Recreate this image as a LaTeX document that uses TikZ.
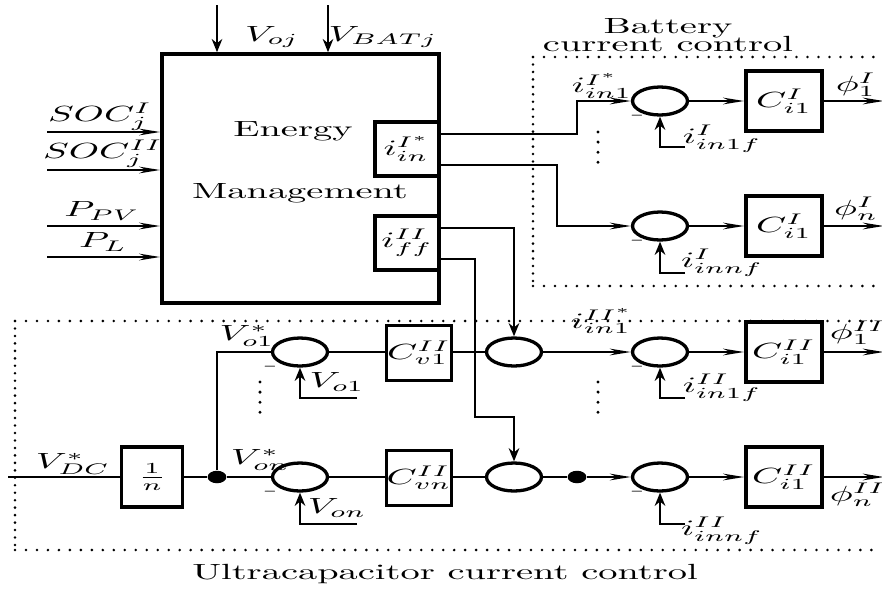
\documentclass[tikz,border=0pt]{standalone}
\usepackage{graphicx}
\usetikzlibrary{arrows.meta,shapes.geometric}
\newcommand{\sx}[1]{\scalebox{1.75}[1]{#1}}

\begin{document}
\begin{tikzpicture}[x=0.016cm,y=-0.016cm,
  blk/.style={draw,line width=1.7pt,inner sep=0pt},
  embox/.style={blk,minimum width=4.432cm,minimum height=3.984cm},
  refbox/.style={blk,minimum width=1.024cm,minimum height=0.864cm},
  ctrl/.style={blk,minimum width=1.216cm,minimum height=0.96cm},
  vctrl/.style={blk,minimum width=1.04cm,minimum height=0.88cm},
  sumj/.style={draw,ellipse,line width=1.5pt,inner sep=0pt,minimum width=0.88cm,minimum height=0.448cm},
  jdot/.style={fill,ellipse,inner sep=0pt,minimum width=0.3cm,minimum height=0.2cm},
  wire/.style={line width=1.2pt},
  sigh/.style={wire,-{Stealth[length=9.5pt,width=3pt]}},
  sigv/.style={wire,-{Stealth[length=6pt,width=4.8pt]}},
  lbl/.style={inner sep=0pt},
  minus/.style={inner sep=0pt,font=\scriptsize},
  frh/.style={line width=1.3pt,line cap=round,dash pattern=on 0pt off 5pt},
  frv/.style={line width=1.3pt,line cap=round,dash pattern=on 0pt off 3.4pt},
  vdots/.style={line width=1.5pt,line cap=round,dash pattern=on 0pt off 4.6pt}]
\path[use as bounding box] (0,0) rectangle (882,590);

% energy management
\node[embox] (em) at (300.5,178.5) {};
\node[lbl] (ten) at (293,131) {\sx{Energy}};
\node[lbl] (tman) at (300,193) {\sx{Management}};
\node[refbox,anchor=north east] (iin) at (em.north east |- 0,120) {\sx{$i_{in}^{I^*}$}};
\node[refbox,anchor=north east] (iff) at (em.north east |- 0,214) {\sx{$i_{ff}^{II}$}};

\coordinate (t1) at (217,5);
\coordinate (t2) at (328,5);
\draw[sigv] (t1) -- (t1 |- em.north);
\draw[sigv] (t2) -- (t2 |- em.north);
\node[lbl] (lvo) at (272,37) {\sx{$V_{oj}$}};
\node[lbl] (lvb) at (383,37) {\sx{$V_{BATj}$}};

\coordinate (s1) at (47,132);
\coordinate (s2) at (47,170);
\coordinate (s3) at (47,226);
\coordinate (s4) at (47,257);
\foreach \s in {s1,s2,s3,s4}
  \draw[sigh] (\s) -- (\s -| em.west);
\node[lbl] (lsoc1) at (100,117) {\sx{$SOC_j^{I}$}};
\node[lbl] (lsoc2) at (103,154) {\sx{$SOC_j^{II}$}};
\node[lbl] (lppv) at (102,211) {\sx{$P_{PV}$}};
\node[lbl] (lpl) at (103,242) {\sx{$P_{L}$}};

% battery current control
\node[lbl,align=center] (tbat) at (668,35) {\sx{Battery}\\[-4pt]\sx{current control}};
\draw[frh] (533,57) -- (880,57);
\draw[frh] (533,286) -- (880,286);
\draw[frv] (533,57) -- (533,286);

\node[sumj] (sb1) at (660,101) {};
\node[sumj] (sbn) at (660,226) {};
\node[ctrl] (cb1) at (784,101) {\sx{$C_{i1}^{I}$}};
\node[ctrl] (cbn) at (784,226) {\sx{$C_{i1}^{I}$}};
\draw[sigh] ([yshift=0.24cm]iin.east) -- ++(136,0) |- (sb1.west);
\draw[sigh] ([yshift=-0.256cm]iin.east) -- ++(116,0) |- (sbn.west);
\draw[sigh] (sb1) -- (cb1);
\draw[sigh] (sbn) -- (cbn);
\draw[sigh] (cb1.east) -- ++(60,0) coordinate (ob1);
\draw[sigh] (cbn.east) -- ++(60,0) coordinate (obn);
\node[lbl] (lob1) at (856,85) {\sx{$\phi_1^{I}$}};
\node[lbl] (lobn) at (856,209) {\sx{$\phi_n^{I}$}};
\node[lbl] (lib1) at (602,86) {\sx{$i_{in1}^{I^*}$}};

\coordinate (fb1) at (685,147);
\coordinate (fbn) at (685,273);
\draw[sigv] (fb1) -| (sb1.south);
\draw[sigv] (fbn) -| (sbn.south);
\node[lbl] (lfb1) at (722,139) {\sx{$i_{in1f}^{I}$}};
\node[lbl] (lfbn) at (722,263) {\sx{$i_{innf}^{I}$}};
\node[minus] (mb1) at (637,116) {$-$};
\node[minus] (mbn) at (637,241) {$-$};
\draw[vdots] (598,132) -- (598,164);

% ultracapacitor current control
\draw[frh] (15,321) -- (880,321);
\draw[frh] (15,550) -- (880,550);
\draw[frv] (15,321) -- (15,550);
\node[lbl] (tuc) at (445,574) {\sx{Ultracapacitor current control}};

\coordinate (vdc) at (8,477);
\node[blk,minimum width=0.976cm,minimum height=0.96cm] (ninv) at (152,477) {\sx{$\frac{1}{n}$}};
\node[jdot] (jv) at (217,477) {};
\node[sumj] (sv1) at (300,352) {};
\node[sumj] (svn) at (300,477) {};
\node[vctrl] (cv1) at (419,353) {\sx{$C_{v1}^{II}$}};
\node[vctrl] (cvn) at (419,478) {\sx{$C_{vn}^{II}$}};
\draw[wire] (vdc) -- (ninv.west);
\draw[wire] (ninv.east) -- (jv) -- (svn.west);
\draw[wire] (jv) |- (sv1.west);
\draw[wire] (sv1.east) -- (sv1.east -| cv1.west);
\draw[wire] (svn.east) -- (svn.east -| cvn.west);
\node[lbl] (lvdc) at (73,464) {\sx{$V_{DC}^{*}$}};
\node[lbl] (lvr1) at (247,336) {\sx{$V_{o1}^{*}$}};
\node[lbl] (lvrn) at (260,460) {\sx{$V_{on}^{*}$}};

\coordinate (fv1) at (357,398);
\coordinate (fvn) at (357,524);
\draw[sigv] (fv1) -| (sv1.south);
\draw[sigv] (fvn) -| (svn.south);
\node[lbl] (lfv1) at (337,382) {\sx{$V_{o1}$}};
\node[lbl] (lfvn) at (337,508) {\sx{$V_{on}$}};
\node[minus] (mv1) at (270,367) {$-$};
\node[minus] (mvn) at (270,492) {$-$};
\draw[vdots] (260,382) -- (260,414);

\node[sumj] (su1) at (514,352) {};
\node[sumj] (sun) at (514,477) {};
\node[jdot] (ju) at (577,477) {};
\draw[wire] (cv1.east |- su1.west) -- (su1.west);
\draw[wire] (cvn.east |- sun.west) -- (sun.west);
\draw[sigv] ([yshift=0.24cm]iff.east) -| (su1.north);
\draw[sigv] ([yshift=-0.256cm]iff.east) -- ++(34,0) -- ++(0,158) -| (sun.north);

\node[sumj] (sc1) at (660,352) {};
\node[sumj] (scn) at (660,477) {};
\node[ctrl] (cc1) at (784,352) {\sx{$C_{i1}^{II}$}};
\node[ctrl] (ccn) at (784,477) {\sx{$C_{i1}^{II}$}};
\draw[sigh] (su1) -- (sc1);
\draw[wire] (sun) -- (ju);
\draw[sigh] (ju) -- (scn);
\draw[sigh] (sc1) -- (cc1);
\draw[sigh] (scn) -- (ccn);
\draw[sigh] (cc1.east) -- ++(60,0) coordinate (oc1);
\draw[sigh] (ccn.east) -- ++(60,0) coordinate (ocn);
\node[lbl] (loc1) at (858,333) {\sx{$\phi_1^{II}$}};
\node[lbl] (locn) at (858,495) {\sx{$\phi_n^{II}$}};
\node[lbl] (lic1) at (602,321) {\sx{$i_{in1}^{II^*}$}};

\coordinate (fc1) at (685,398);
\coordinate (fcn) at (685,524);
\draw[sigv] (fc1) -| (sc1.south);
\draw[sigv] (fcn) -| (scn.south);
\node[lbl] (lfc1) at (722,388) {\sx{$i_{in1f}^{II}$}};
\node[lbl] (lfcn) at (722,531) {\sx{$i_{innf}^{II}$}};
\node[minus] (mc1) at (637,367) {$-$};
\node[minus] (mcn) at (637,492) {$-$};
\draw[vdots] (598,382) -- (598,414);
\end{tikzpicture}
\end{document}
